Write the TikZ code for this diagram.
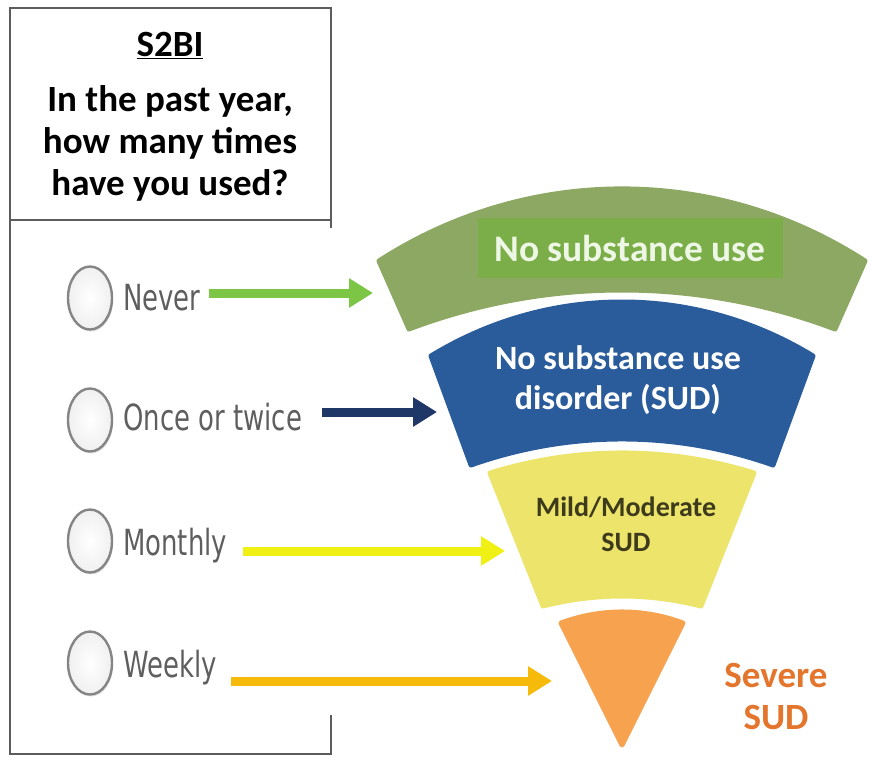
\documentclass[tikz,border=0pt]{standalone}
\usepackage{fontspec}
\setmainfont{Carlito}
\newfontfamily\optfont[FakeStretch=0.72]{DejaVu Sans}
\usetikzlibrary{positioning, calc, arrows.meta, shapes.geometric, shadows}
\definecolor{Frame}{HTML}{5C5C5C}
\definecolor{OptGray}{HTML}{5E5E5E}
\definecolor{RadioLine}{HTML}{858585}
\definecolor{GreenSeg}{HTML}{8CA862}
\definecolor{GreenPanel}{HTML}{7BAE48}
\definecolor{GreenText}{HTML}{EEF7E6}
\definecolor{BlueSeg}{HTML}{2A5C9C}
\definecolor{YellowSeg}{HTML}{EDE46C}
\definecolor{YellowText}{HTML}{3D3B1C}
\definecolor{OrangeSeg}{HTML}{F6A24E}
\definecolor{SevereText}{HTML}{E4752C}
\definecolor{ArrGreen}{HTML}{7CC545}
\definecolor{ArrNavy}{HTML}{1E3766}
\definecolor{ArrYellow}{HTML}{F0F014}
\definecolor{ArrGold}{HTML}{F6BA0A}
\tikzset{
    frame/.style={draw=Frame, line width=1.3pt},
    headline/.style={anchor=base, inner sep=0pt, font=\bfseries\fontsize{37}{44}\selectfont},
    radio/.style={ellipse, draw=RadioLine, line width=2.4pt, inner color=white, outer color=gray!12,
        minimum width=44pt, minimum height=63pt, inner sep=0pt,
        drop shadow={opacity=0.25, shadow xshift=1pt, shadow yshift=-2pt}},
    optlabel/.style={anchor=base west, inner sep=0pt, font=\optfont\fontsize{36}{40}\selectfont, text=OptGray},
    arrow/.style={-{Triangle[length=24pt, width=28pt]}, line width=9pt},
    segment/.style={line width=5pt, line join=round},
    segtext/.style={align=center, inner sep=0pt, font=\bfseries},
}
\begin{document}
\begin{tikzpicture}[x=1pt, y=-1pt]
\useasboundingbox (0,0) rectangle (871,757);

% Question box
\draw[frame] (10,8) rectangle (331,220);
\draw[frame] (331,220) -- (331,228);
\draw[frame] (10,220) -- (10,754) -- (331,754) -- (331,715);
\node[headline] (title) at (170,57) {\underline{S2BI}};
\node[headline] (q1) at (170,112) {In the past year,};
\node[headline] (q2) at (170,154) {how many times};
\node[headline] (q3) at (170,196) {have you used?};

% Answer options
\node[radio] (r1) at (90,298) {};
\node[radio] (r2) at (90,420) {};
\node[radio] (r3) at (90,541) {};
\node[radio] (r4) at (90,663) {};
\node[optlabel] (nev) at (123,310) {Never};
\node[optlabel] (once) at (123,430) {Once or twice};
\node[optlabel] (mon) at (123,555) {Monthly};
\node[optlabel] (wee) at (123,677) {Weekly};

% Funnel - green (top)
\filldraw[segment, GreenSeg] (379,261) .. controls (527.7,164.9) and (716.3,164.9) .. (865,261)
    -- (835,329) .. controls (697.1,277) and (546.9,277) .. (409,329) -- cycle;
% Funnel - blue
\filldraw[segment, BlueSeg] (431,356) .. controls (548.9,284) and (695.1,284) .. (813,356)
    -- (773,465) .. controls (674.6,430.3) and (569.4,430.3) .. (471,465) -- cycle;
% Funnel - yellow
\filldraw[segment, YellowSeg] (490,473) .. controls (576.7,446.3) and (667.3,446.3) .. (754,473)
    -- (701,606) .. controls (648.5,592.7) and (595.5,592.7) .. (543,606) -- cycle;
% Funnel - orange (tip)
\filldraw[segment, OrangeSeg] (561,623) .. controls (601,608.3) and (643,608.3) .. (683,623)
    -- (622,745) -- cycle;

% Segment labels
\node[segtext, fill=GreenPanel, minimum width=305pt, minimum height=60pt, text=GreenText,
    font=\bfseries\fontsize{37.5}{44}\selectfont] (nouse) at (630,248) {No substance use};
\node[segtext, text=white, font=\bfseries\fontsize{34}{40}\selectfont] (nosud) at (618,380)
    {No substance use\\disorder (SUD)};
\node[segtext, text=YellowText, font=\bfseries\fontsize{28}{35}\selectfont] (mild) at (626,524)
    {Mild/Moderate\\SUD};
\node[segtext, text=SevereText, font=\bfseries\fontsize{37}{42}\selectfont] (severe) at (776,696)
    {Severe\\SUD};

% Arrow targets on the funnel
\coordinate (gtip) at (373,293);
\coordinate (btip) at (437,412);
\coordinate (ytip) at (505,551);
\coordinate (otip) at (552,681);

% Arrows
\draw[arrow, ArrGreen, shorten <=8pt] (nev.east |- gtip) -- (gtip);
\draw[arrow, ArrNavy, shorten <=20pt] (once.east |- btip) -- (btip);
\draw[arrow, ArrYellow, shorten <=16pt] (mon.east |- ytip) -- (ytip);
\draw[arrow, ArrGold, shorten <=14pt] (wee.east |- otip) -- (otip);
\end{tikzpicture}
\end{document}
